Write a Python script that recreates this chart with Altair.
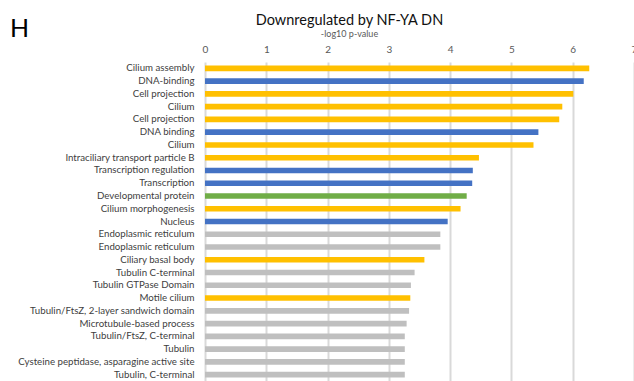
import altair as alt
import pandas as pd

# Enriched terms, top to bottom
terms = [
    "Cilium assembly", "DNA-binding", "Cell projection", "Cilium", "Cell projection",
    "DNA binding", "Cilium", "Intraciliary transport particle B", "Transcription regulation",
    "Transcription", "Developmental protein", "Cilium morphogenesis", "Nucleus",
    "Endoplasmic reticulum", "Endoplasmic reticulum", "Ciliary basal body",
    "Tubulin C-terminal", "Tubulin GTPase Domain", "Motile cilium",
    "Tubulin/FtsZ, 2-layer sandwich domain", "Microtubule-based process",
    "Tubulin/FtsZ, C-terminal", "Tubulin", "Cysteine peptidase, asparagine active site",
    "Tubulin, C-terminal",
]
neg_log10_p = [
    6.27, 6.18, 6.01, 5.83, 5.78, 5.44, 5.36, 4.47, 4.37, 4.36, 4.27, 4.17, 3.96,
    3.84, 3.84, 3.58, 3.42, 3.36, 3.35, 3.33, 3.29, 3.26, 3.26, 3.26, 3.26,
]
groups = [
    "cilia", "dna", "cilia", "cilia", "cilia", "dna", "cilia", "cilia", "dna",
    "dna", "development", "cilia", "dna", "other", "other", "cilia", "other",
    "other", "cilia", "other", "other", "other", "other", "other", "other",
]
group_names = ["cilia", "dna", "development", "other"]
group_colors = ["#FFC000", "#4472C4", "#70AD47", "#BFBFBF"]
x_ticks = [0, 1, 2, 3, 4, 5, 6, 7]

df = pd.DataFrame({
    "row": [f"{i:02d}" for i in range(len(terms))],
    "term": terms,
    "value": neg_log10_p,
    "group": groups,
})

label_lookup = "[" + ",".join("'" + t.replace("'", "\\'") + "'" for t in terms) + "]"

bars = alt.Chart(df).mark_bar().encode(
    x=alt.X(
        "value:Q",
        scale=alt.Scale(domain=[0, 7], nice=False),
        axis=alt.Axis(
            orient="top", values=x_ticks, title=None, domain=False, ticks=False,
            grid=True, gridColor="#D9D9D9", gridWidth=2,
            labelColor="#595959", labelFontSize=10, labelFont="Lato",
            labelPadding=8, labelFlush=False,
        ),
    ),
    y=alt.Y(
        "row:N",
        sort=None,
        scale=alt.Scale(paddingInner=0.56, paddingOuter=0.28),
        axis=alt.Axis(
            title=None, domain=False, ticks=False, grid=False,
            labelExpr=f"{label_lookup}[toNumber(datum.value)]",
            labelColor="#404040", labelFontSize=9.7, labelFont="Lato",
            labelPadding=11, labelLimit=300,
        ),
    ),
    color=alt.Color(
        "group:N",
        scale=alt.Scale(domain=group_names, range=group_colors),
        legend=None,
    ),
)

panel = alt.Chart(pd.DataFrame({"t": ["H"]})).mark_text(
    font="Lato", fontSize=25, color="#000000", align="left", baseline="alphabetic"
).encode(text="t:N", x=alt.value(-195), y=alt.value(-25))

chart = alt.layer(bars, panel).properties(
    width=429,
    height=319,
    autosize=alt.AutoSizeParams(type="none"),
    padding={"left": 205, "top": 62, "right": 0, "bottom": 0},
    title=alt.TitleParams(
        text="Downregulated by NF-YA DN",
        subtitle="-log10 p-value",
        anchor="middle",
        dx=-70,
        offset=-23,
        font="Lato",
        fontSize=14.5,
        fontWeight="normal",
        color="#111111",
        subtitleFont="Lato",
        subtitleFontSize=9,
        subtitleColor="#595959",
        subtitlePadding=2,
    ),
).configure_view(stroke=None)

chart.save("out.html", embed_options={"renderer": "svg", "actions": False})
